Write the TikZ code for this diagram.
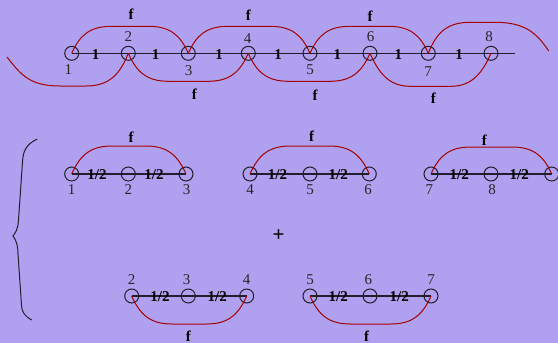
\documentclass[tikz,border=0pt]{standalone}
\usepackage{fontspec}
\setmainfont{Liberation Serif}
\usetikzlibrary{calc}
\definecolor{bgc}{RGB}{176,161,240}
\definecolor{arcred}{RGB}{165,0,0}
\definecolor{linec}{RGB}{35,30,45}
\newcommand\uparc[3]{\draw[arcr] (#1.center) .. controls +(8,-18) and +(-22,0) .. ($(#1.center)+(40,-#3)$) .. controls +(12,0) and +(-12,0) .. ($(#2.center)+(-40,-#3)$) .. controls +(22,0) and +(-8,-18) .. (#2.center);}
\newcommand\downarc[3]{\draw[arcr] (#1.center) .. controls +(8,18) and +(-22,0) .. ($(#1.center)+(40,#3)$) .. controls +(12,0) and +(-12,0) .. ($(#2.center)+(-40,#3)$) .. controls +(22,0) and +(-8,18) .. (#2.center);}
\begin{document}
\begin{tikzpicture}[x=1pt,y=-1pt,
  v/.style={circle,draw=linec,line width=1pt,minimum size=14pt,inner sep=0pt},
  num/.style={font=\fontsize{15}{17}\selectfont,inner sep=0pt,text=black!85},
  wl/.style={font=\fontsize{15}{17}\selectfont\bfseries,inner sep=0pt},
  bar/.style={draw=linec,line width=1.2pt},
  arcr/.style={draw=arcred,line width=1pt}]
\fill[bgc] (0,0) rectangle (558,343);
\useasboundingbox (0,0) rectangle (558,343);

% ---------- top row ----------
\node[v] (t1) at (71.7,53.3) {};
\node[v] (t2) at (128.3,53.3) {};
\node[v] (t3) at (188.3,53.3) {};
\node[v] (t4) at (248.3,53.3) {};
\node[v] (t5) at (310,53.3) {};
\node[v] (t6) at (370,53.3) {};
\node[v] (t7) at (428.3,53.3) {};
\node[v] (t8) at (491,53.3) {};
\coordinate (tend) at (515.3,53.3);
\coordinate (tleft) at (7,57);
\coordinate (tright) at (548.7,51);
\draw[bar] (t1.center) -- (tend);

\node[num] (lt1) at (68.3,70) {1};
\node[num] (lt2) at (128.3,37) {2};
\node[num] (lt3) at (188.7,71) {3};
\node[num] (lt4) at (247.5,39) {4};
\node[num] (lt5) at (310,70) {5};
\node[num] (lt6) at (370.7,37) {6};
\node[num] (lt7) at (428,72) {7};
\node[num] (lt8) at (489,37) {8};

\node[wl] (w1) at (95.7,54.3) {1};
\node[wl] (w2) at (155.7,54.3) {1};
\node[wl] (w3) at (219,54.3) {1};
\node[wl] (w4) at (278,54.3) {1};
\node[wl] (w5) at (337.3,54.3) {1};
\node[wl] (w6) at (398.3,54.3) {1};
\node[wl] (w7) at (459,54.3) {1};

\uparc{t1}{t3}{27}
\uparc{t3}{t5}{27}
\uparc{t5}{t7}{27}
\draw[arcr] (t7.center) .. controls +(8,-20) and +(-24,0) .. ($(t7.center)+(42,-31)$) .. controls +(10,0) and +(-10,0) .. (495,22.3) .. controls +(30,0) and +(-12,-18) .. (tright);
\draw[arcr] (t2.center) .. controls +(-8,20) and +(24,0) .. (86,86) .. controls +(-10,0) and +(10,0) .. (60,86) .. controls +(-30,0) and +(14,18) .. (tleft);
\downarc{t2}{t4}{28}
\downarc{t4}{t6}{28}
\downarc{t6}{t8}{33}

\node[wl] (ft1) at (131,14) {f};
\node[wl] (ft2) at (248.3,15.5) {f};
\node[wl] (ft3) at (370,16) {f};
\node[wl] (fb1) at (194.3,94.5) {f};
\node[wl] (fb2) at (315,95) {f};
\node[wl] (fb3) at (433.3,98) {f};

% ---------- middle row ----------
\node[v] (m1) at (71.7,174) {};
\node[v] (m2) at (128.3,174) {};
\node[v] (m3) at (186,174) {};
\node[v] (m4) at (250,174) {};
\node[v] (m5) at (310,174) {};
\node[v] (m6) at (369.3,174) {};
\node[v] (m7) at (431,174) {};
\node[v] (m8) at (491,174) {};
\node[v] (m9) at (551.7,174) {};
\draw[bar] (m1.center) -- (m3.center);
\draw[bar] (m4.center) -- (m6.center);
\draw[bar] (m7.center) -- (m9.center);

\node[num] (lm1) at (71.7,190) {1};
\node[num] (lm2) at (128.3,190) {2};
\node[num] (lm3) at (186.7,190) {3};
\node[num] (lm4) at (250,190) {4};
\node[num] (lm5) at (310,190) {5};
\node[num] (lm6) at (368,190) {6};
\node[num] (lm7) at (429.3,190) {7};
\node[num] (lm8) at (492,190) {8};

\node[wl] (h1) at (97,175) {1/2};
\node[wl] (h2) at (154,175) {1/2};
\node[wl] (h3) at (277.5,175) {1/2};
\node[wl] (h4) at (338.3,175) {1/2};
\node[wl] (h5) at (459.3,175) {1/2};
\node[wl] (h6) at (519.3,175) {1/2};

\uparc{m1}{m3}{28}
\uparc{m4}{m6}{28}
\uparc{m7}{m9}{27}

\node[wl] (fm1) at (131,137) {f};
\node[wl] (fm2) at (311.7,136.5) {f};
\node[wl] (fm3) at (484.3,140) {f};

\node[font=\fontsize{21}{23}\selectfont\bfseries,inner sep=0pt] (plus) at (278.5,236) {+};

% ---------- bottom row ----------
\node[v] (b2) at (131.7,296) {};
\node[v] (b3) at (188.3,296) {};
\node[v] (b4) at (246.7,296) {};
\node[v] (b5) at (310,296) {};
\node[v] (b6) at (370,296) {};
\node[v] (b7) at (431,296) {};
\draw[bar] (b2.center) -- (b4.center);
\draw[bar] (b5.center) -- (b7.center);

\node[num] (lb2) at (131.7,280) {2};
\node[num] (lb3) at (186.7,280) {3};
\node[num] (lb4) at (246.7,280) {4};
\node[num] (lb5) at (310,280) {5};
\node[num] (lb6) at (368.3,280) {6};
\node[num] (lb7) at (431,280) {7};

\node[wl] (g1) at (160,297) {1/2};
\node[wl] (g2) at (217.3,297) {1/2};
\node[wl] (g3) at (338.3,297) {1/2};
\node[wl] (g4) at (399.3,297) {1/2};

\downarc{b2}{b4}{28}
\downarc{b5}{b7}{28}

\node[wl] (fl1) at (188.3,336) {f};
\node[wl] (fl2) at (366.7,336) {f};

% ---------- brace ----------
\draw[linec,line width=1pt] (37.3,139) .. controls (27,144) and (23,150) .. (22.5,162)
  -- (18.5,220) .. controls (18,230) and (15,233) .. (13,236)
  .. controls (16,240) and (18,245) .. (18,254)
  -- (21.5,305) .. controls (22,313) and (25,316) .. (31.7,320);
\end{tikzpicture}
\end{document}
